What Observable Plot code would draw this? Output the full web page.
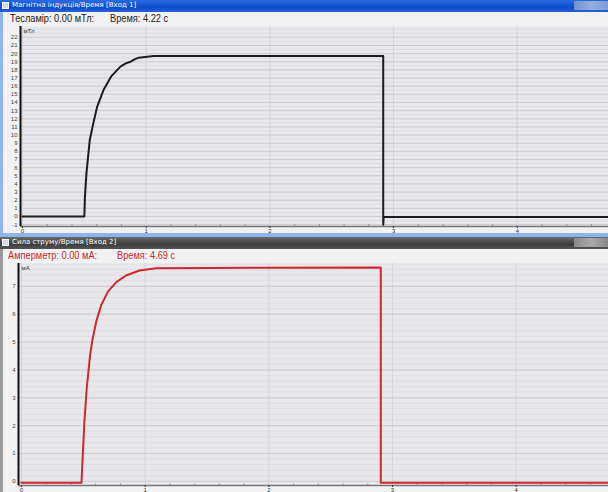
<!DOCTYPE html>
<html><head><meta charset="utf-8">
<script src="https://cdn.jsdelivr.net/npm/d3@7"></script>
<script src="https://cdn.jsdelivr.net/npm/@observablehq/plot@0.6"></script>
<style>
html,body{margin:0;padding:0;background:#f2f2f2;width:608px;height:492px;overflow:hidden;font-family:"Liberation Sans",Arial,sans-serif;}
.abs{position:absolute;}
.tb1{left:0;top:0;width:608px;height:12px;background:linear-gradient(#2d6ae0,#0a4cc8 60%,#2860d8);}
.tb2{left:0;top:237px;width:608px;height:12px;background:linear-gradient(#6a6a6a,#3c3c3c 60%,#555);}
.tbt{font-family:"DejaVu Sans",sans-serif;font-size:7px;color:#fff;top:1px;left:12px;white-space:nowrap;}
.icon{left:2px;top:2px;width:7px;height:7px;background:#cfd8e8;border:1px solid #fff;box-sizing:border-box;}
.btns{right:0;top:1px;width:34px;height:9px;background:linear-gradient(90deg,#6f8fd0,#98b0e0,#7f9bd8);}
.btns2{right:0;top:238px;width:34px;height:9px;background:linear-gradient(90deg,#888,#aaa,#888);}
.hdr{font-size:11px;white-space:nowrap;transform:scaleX(0.84);transform-origin:0 0;}
.frame1{left:0;top:12px;width:3px;height:225px;background:#8fb4ec;}
.frame1b{left:0;top:233px;width:608px;height:4px;background:#8fb4ec;}
.frame2{left:0;top:249px;width:3px;height:243px;background:#9a9a9a;}
</style></head>
<body>
<div class="abs tb1"></div><div class="abs icon"></div>
<div class="abs tbt">Магнітна індукція/Время [Вход 1]</div>
<div class="abs btns"></div>
<div class="abs frame1"></div>
<div class="abs hdr" style="left:10px;top:12px;color:#222;">Тесламір: 0.00 мТл:</div>
<div class="abs hdr" style="left:110px;top:12px;color:#222;">Время: 4.22 с</div>
<div id="c1" class="abs" style="left:3px;top:26px;"></div>
<div class="abs frame1b"></div>
<div class="abs tb2"></div><div class="abs icon" style="top:239px"></div>
<div class="abs tbt" style="top:238px">Сила струму/Время [Вход 2]</div>
<div class="abs btns2"></div>
<div class="abs frame2"></div>
<div class="abs hdr" style="left:8px;top:249px;color:#c8262c;">Амперметр: 0.00 мА:</div>
<div class="abs hdr" style="left:117px;top:249px;color:#c8262c;">Время: 4.69 с</div>
<div id="c2" class="abs" style="left:3px;top:263px;"></div>
<script>
// Top chart: magnetic induction (mT) vs time (s)
const bTime = [0, 0.50, 0.505, 0.517, 0.544, 0.572, 0.604, 0.657, 0.717, 0.792, 0.835, 0.873, 0.905, 0.94, 1.06, 2.916, 2.916, 2.92, 4.74];
const bValue = [0, 0, 2.5, 5.3, 9.4, 11.4, 13.5, 15.6, 17.2, 18.4, 18.8, 19.0, 19.3, 19.5, 19.7, 19.7, -1.0, -0.05, -0.05];
const yTicksTop = [-1,0,1,2,3,4,5,6,7,8,9,10,11,12,13,14,15,16,17,18,19,20,21,22];
const xTicks = [0,1,2,3,4];
const xMinor = [0.2,0.4,0.6,0.8,1.2,1.4,1.6,1.8,2.2,2.4,2.6,2.8,3.2,3.4,3.6,3.8,4.2,4.4,4.6];
// Bottom chart: current (mA) vs time (s)
const iTime = [0, 0.485, 0.496, 0.509, 0.528, 0.555, 0.576, 0.604, 0.644, 0.698, 0.766, 0.846, 0.954, 1.09, 2.905, 2.905, 4.75];
const iValue = [-0.05, -0.05, 0.96, 2.15, 3.35, 4.54, 5.13, 5.73, 6.32, 6.8, 7.15, 7.39, 7.57, 7.65, 7.68, -0.05, -0.05];
const yTicksBot = [0,1,2,3,4,5,6,7];

const bData = bTime.map((t,i)=>({t, v:bValue[i]}));
const iData = iTime.map((t,i)=>({t, v:iValue[i]}));

function chart({data, xDom, yDom, yTicks, yMinorStep, width, height, mt, mb, ml, color, unit, tickLen}) {
  const minor = d3.range(Math.ceil(yDom[0]/yMinorStep)*yMinorStep, yDom[1], yMinorStep);
  return Plot.plot({
    width, height, marginTop: mt, marginBottom: mb, marginLeft: ml, marginRight: 0,
    x: {domain: xDom, axis: null},
    y: {domain: yDom, axis: null},
    style: {background: "transparent", fontFamily: "Liberation Sans, Arial, sans-serif"},
    marks: [
      Plot.frame({fill: "#e7e7ec", stroke: null}),
      Plot.ruleY(minor, {stroke: "#d6d6dc", strokeWidth: 0.6}),
      Plot.ruleY(yTicks, {stroke: "#c8c8ce", strokeWidth: 0.8}),
      Plot.ruleX(xTicks, {stroke: "#cfcfd4", strokeWidth: 0.8}),
      Plot.ruleY([yDom[0]], {stroke: "#777", strokeWidth: 1.5}),
      Plot.ruleX(xMinor, {x: d=>d, y1: yDom[0], y2: yDom[0] + tickLen, stroke: "#888", strokeWidth: 0.8}),
      Plot.axisX({ticks: xTicks, tickSize: 2, tickPadding: 0, fontSize: 6, color: "#333", label: null, tickFormat: d=>String(d)}),
      Plot.axisY({ticks: yTicks, tickSize: 0, tickPadding: 3, fontSize: 6, color: "#444", label: null, tickFormat: d=>String(d)}),
      Plot.ruleX([xDom[0]], {stroke: "#111", strokeWidth: 2}),
      Plot.line(data, {x: "t", y: "v", stroke: color, strokeWidth: 2, curve: "linear"}),
      Plot.text([unit], {frameAnchor: "top-left", dx: 3, dy: 2, text: d=>d, fontSize: 6, fill: "#333"})
    ]
  });
}

document.getElementById("c1").appendChild(chart({
  data: bData, xDom: [-0.016, 4.737], yDom: [-1.23, 23.33], yTicks: yTicksTop, yMinorStep: 0.5,
  width: 605, height: 207, mt: 0, mb: 7, ml: 17, color: "#1c1c1c", unit: "мТл", tickLen: 0.25
}));
document.getElementById("c2").appendChild(chart({
  data: iData, xDom: [-0.024, 4.746], yDom: [-0.15, 7.82], yTicks: yTicksBot, yMinorStep: 0.2,
  width: 605, height: 229, mt: 0, mb: 7, ml: 15, color: "#cc2a2e", unit: "мА", tickLen: 0.06
}));
</script>
</body></html>
